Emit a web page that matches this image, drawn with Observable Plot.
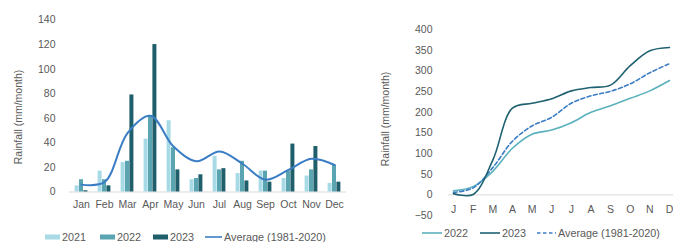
<!DOCTYPE html>
<html>
<head>
<meta charset="utf-8">
<script src="https://cdn.jsdelivr.net/npm/d3@7"></script>
<script src="https://cdn.jsdelivr.net/npm/@observablehq/plot@0.6"></script>
<style>
  html, body { margin: 0; padding: 0; background: #fff; }
  #page { position: relative; width: 673px; height: 242px; overflow: hidden; font-family: "Liberation Sans", Arial, sans-serif; color: #595959; }
  .panel { position: absolute; top: 0; }
  .ytitle { position: absolute; font-size: 10.5px; white-space: nowrap; transform: translate(-50%, -50%) rotate(-90deg); }
  .legend { position: absolute; display: flex; align-items: center; font-size: 10.8px; white-space: nowrap; }
  .legend .item { display: flex; align-items: center; }
  .legend svg { display: block; margin-right: 2px; }
</style>
</head>
<body>
<div id="page">
  <div id="left" class="panel" style="left:0"></div>
  <div id="right" class="panel" style="left:350px"></div>
  <div class="ytitle" style="left:18px; top:117px">Rainfall (mm/month)</div>
  <div class="ytitle" style="left:385px; top:119px">Rainfall (mm/month)</div>
  <div id="legendLeft" class="legend" style="left:45px; top:230px"></div>
  <div id="legendRight" class="legend" style="left:422px; top:226px"></div>
</div>
<script>
// ---- Data ----
const months = ["Jan","Feb","Mar","Apr","May","Jun","Jul","Aug","Sep","Oct","Nov","Dec"];
const rain2021 = [5, 17, 24, 43, 58, 10, 29, 15, 17, 11, 13, 7];
const rain2022 = [10, 10, 25, 62, 36, 11, 18, 25, 17, 17, 18, 22];
const rain2023 = [1, 5, 79, 120, 18, 14, 19, 9, 8, 39, 37, 8];
const rainAvg  = [6, 8, 48, 62, 37, 25, 33, 23, 10, 18, 27, 22];

const monthIndex = [1,2,3,4,5,6,7,8,9,10,11,12];
const monthLetters = ["J","F","M","A","M","J","J","A","S","O","N","D"];
const cum2022 = [10, 20, 57, 113, 147, 157, 175, 200, 216, 234, 252, 277];
const cum2023 = [3, 1, 84, 210, 222, 233, 252, 260, 266, 313, 349, 357];
const cumAvg  = [6, 17, 66, 130, 167, 188, 222, 240, 251, 269, 296, 318];

const leftTicks = [0, 20, 40, 60, 80, 100, 120, 140];
const rightTicks = [-50, 0, 50, 100, 150, 200, 250, 300, 350, 400];

const colors = {c2021: "#a8dae6", c2022: "#5aa5b1", c2023: "#1f5f6b", avg: "#3b7dc4",
                l2022: "#5bb1bd", l2023: "#1f6170"};

const leftData = months.map((m, i) => ({month: m, r2021: rain2021[i], r2022: rain2022[i], r2023: rain2023[i], avg: rainAvg[i]}));
const rightData = monthIndex.map((m, i) => ({m, c2022: cum2022[i], c2023: cum2023[i], avg: cumAvg[i]}));

const axisStyle = {fontSize: "10.5px", fontFamily: "Liberation Sans, Arial, sans-serif", color: "#595959", background: "transparent", overflow: "visible"};

// ---- Left chart: monthly rainfall ----
const barW = 4.4;
const left = Plot.plot({
  width: 350, height: 222,
  marginLeft: 69, marginRight: 4, marginTop: 19.5, marginBottom: 30.5,
  style: axisStyle,
  x: {domain: months, paddingInner: 0.815, paddingOuter: 0.3, tickSize: 0, tickPadding: 9, label: null},
  y: {domain: [0, 140], ticks: leftTicks, tickSize: 0, tickPadding: 14, label: null},
  marks: [
    Plot.ruleY([0], {stroke: "#d9d9d9", strokeWidth: 1}),
    Plot.barY(leftData, {x: "month", y: "r2021", fill: colors.c2021, dx: -barW}),
    Plot.barY(leftData, {x: "month", y: "r2022", fill: colors.c2022}),
    Plot.barY(leftData, {x: "month", y: "r2023", fill: colors.c2023, dx: barW}),
    Plot.line(leftData, {x: "month", y: "avg", stroke: colors.avg, strokeWidth: 2, curve: "catmull-rom"})
  ]
});
document.getElementById("left").appendChild(left);

// ---- Right chart: cumulative rainfall ----
const right = Plot.plot({
  width: 323, height: 242,
  marginLeft: 103, marginRight: 4, marginTop: 29.3, marginBottom: 27,
  style: axisStyle,
  x: {domain: [1, 12], axis: null},
  y: {domain: [-50, 400], ticks: rightTicks, tickSize: 0, tickPadding: 21, label: null},
  marks: [
    Plot.ruleY([0], {stroke: "#d9d9d9", strokeWidth: 1, insetLeft: -5, insetRight: -4}),
    Plot.text(monthIndex, {x: d => d, y: 0, text: (d, i) => monthLetters[i], dy: 15, fill: "#595959", fontSize: 10.5}),
    Plot.line(rightData, {x: "m", y: "c2022", stroke: colors.l2022, strokeWidth: 1.6, curve: "catmull-rom"}),
    Plot.line(rightData, {x: "m", y: "avg", stroke: colors.avg, strokeWidth: 1.6, strokeDasharray: "4,2.5", curve: "catmull-rom"}),
    Plot.line(rightData, {x: "m", y: "c2023", stroke: colors.l2023, strokeWidth: 1.6, curve: "catmull-rom"})
  ]
});
document.getElementById("right").appendChild(right);

// ---- Legends ----
function rectSwatch(color) {
  return `<svg width="15" height="14"><rect x="0" y="4.5" width="15" height="5" fill="${color}"/></svg>`;
}
function lineSwatch(color, w, dash) {
  return `<svg width="${w}" height="14"><line x1="0" x2="${w}" y1="7" y2="7" stroke="${color}" stroke-width="1.6" ${dash ? `stroke-dasharray="${dash}"` : ""}/></svg>`;
}
const legendLeftItems = [
  {label: "2021", sw: rectSwatch(colors.c2021), gap: 14},
  {label: "2022", sw: rectSwatch(colors.c2022), gap: 12},
  {label: "2023", sw: rectSwatch(colors.c2023), gap: 11},
  {label: "Average (1981-2020)", sw: lineSwatch(colors.avg, 17), gap: 0}
];
document.getElementById("legendLeft").innerHTML = legendLeftItems.map(d =>
  `<div class="item" style="margin-right:${d.gap}px">${d.sw}<span>${d.label}</span></div>`).join("");

const legendRightItems = [
  {label: "2022", sw: lineSwatch(colors.l2022, 20), gap: 12},
  {label: "2023", sw: lineSwatch(colors.l2023, 20), gap: 11},
  {label: "Average (1981-2020)", sw: lineSwatch(colors.avg, 19, "3.5,2.5"), gap: 0}
];
document.getElementById("legendRight").innerHTML = legendRightItems.map(d =>
  `<div class="item" style="margin-right:${d.gap}px">${d.sw}<span>${d.label}</span></div>`).join("");
</script>
</body>
</html>
